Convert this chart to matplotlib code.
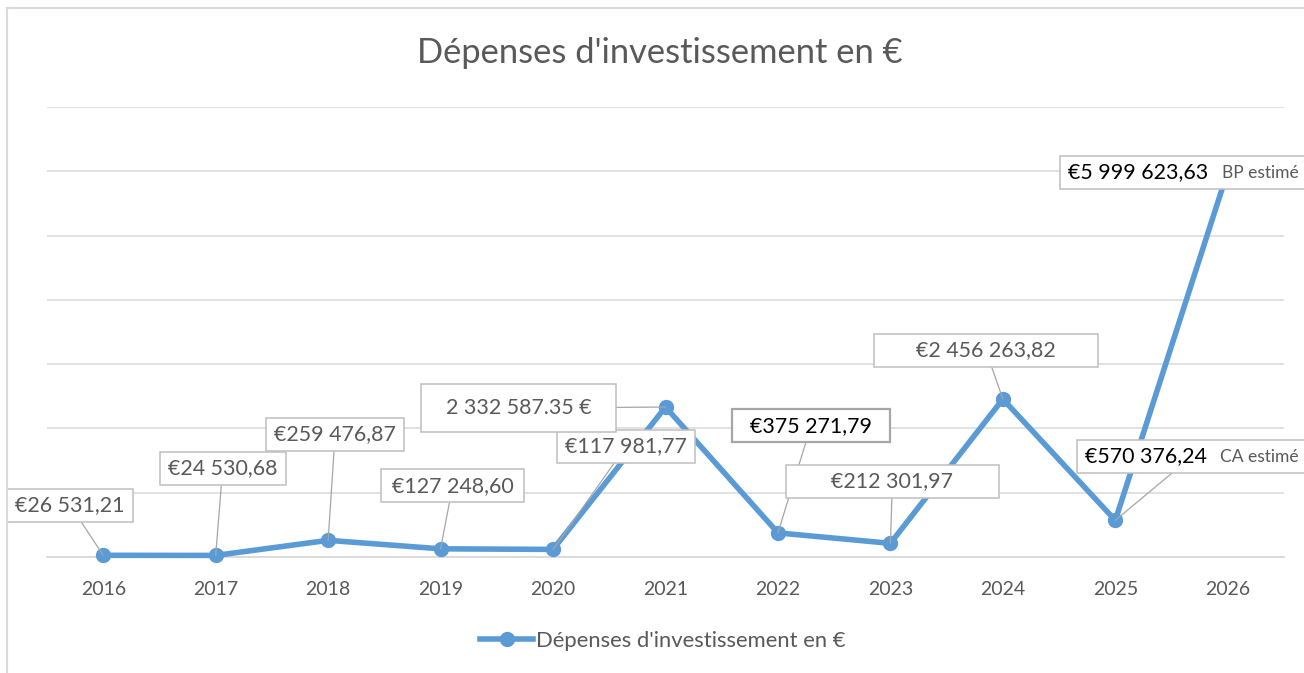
import matplotlib
matplotlib.use('Agg')
import numpy as np
from matplotlib import pyplot as plt
from matplotlib.lines import Line2D
from matplotlib.offsetbox import TextArea, HPacker, DrawingArea, AnnotationBbox

plt.rcParams['font.family'] = ['Lato', 'DejaVu Sans']

# data
years = ['2016', '2017', '2018', '2019', '2020', '2021', '2022', '2023', '2024', '2025', '2026']
depenses = [26531.21, 24530.68, 259476.87, 127248.60, 117981.77, 2332587.35,
            375271.79, 212301.97, 2456263.82, 570376.24, 5999623.63]
value_labels = ['€26 531,21', '€24 530,68', '€259 476,87', '€127 248,60', '€117 981,77',
                '2 332 587.35 €', '€375 271,79', '€212 301,97', '€2 456 263,82',
                '€570 376,24', '€5 999 623,63']
notes = ['', '', '', '', '', '', '', '', '', 'CA estimé', 'BP estimé']
series_name = "Dépenses d'investissement en €"
title = "Dépenses d'investissement en €"

# label layout: offset (px) of box from point, extra side padding (px), alignment
offsets = [(-33, 50), (7, 87), (7, 106), (12, 63), (73, 103), (-147, -1),
           (33, 107), (2, 62), (-17, 49), (-32, 64), (-161.5, -1)]
extra_pad = [2, 2, 2, 4, 2, 18, 12, 39, 36, 2, 2]
extra_h = [0, 0, 0, 0, 0, 35, 0, 0, 0, 0, 0]
left_aligned = [9, 10]
black_text = [6, 9, 10]
dark_frame = [6]

gray = '#595959'
grid_c = '#D9D9D9'
blue = '#5B9BD5'
px = 72 / 100.0

W, H = 1304, 673
fig = plt.figure(figsize=(W / 100, H / 100), dpi=100)
ax = fig.add_axes([47 / W, 1 - 557 / H, (1284 - 47) / W, 450 / H])

x = np.arange(len(years))
line, = ax.plot(x, depenses, color=blue, lw=4, marker='o', ms=10,
                solid_joinstyle='round', zorder=3, clip_on=False)

ax.set_xlim(-0.5, len(years) - 0.5)
ax.set_ylim(0, 7e6)
ax.set_yticks(np.arange(0, 7e6 + 1, 1e6))
ax.set_yticklabels([])
ax.tick_params(axis='y', length=0)
ax.set_xticks(x, years)
ax.tick_params(axis='x', length=0, pad=17, labelsize=14, labelcolor=gray)
ax.grid(axis='y', color=grid_c, lw=1.1)
ax.set_axisbelow(True)
for s in ['top', 'right', 'left']:
    ax.spines[s].set_visible(False)
ax.spines['bottom'].set_color(grid_c)
ax.spines['bottom'].set_linewidth(1.3)

for i, v in enumerate(depenses):
    col = 'black' if i in black_text else gray
    ta = TextArea(value_labels[i], textprops=dict(color=col, size=15.4))
    if notes[i]:
        tn = TextArea(notes[i], textprops=dict(color=gray, size=12.5))
        inner = HPacker(children=[ta, tn], sep=13 * px, align='baseline', pad=0)
    else:
        inner = ta
    sp = extra_pad[i] * px
    sp_l = DrawingArea(sp, extra_h[i] * px)
    sp_r = DrawingArea(sp, extra_h[i] * px)
    box = HPacker(children=[sp_l, inner, sp_r], sep=0, align='center', pad=0)
    if i in dark_frame:
        frame = dict(edgecolor='#A6A6A6', facecolor='white', linewidth=1.6)
    else:
        frame = dict(edgecolor='#BFBFBF', facecolor='white', linewidth=1.1)
    arrow = None if i == len(depenses) - 1 else dict(arrowstyle='-', color='#A6A6A6', lw=0.9,
                                                     shrinkA=0, shrinkB=0)
    ab = AnnotationBbox(box, (i, v), xybox=offsets[i], xycoords='data',
                        boxcoords='offset pixels',
                        box_alignment=(0, 0.5) if i in left_aligned else (0.5, 0.5),
                        pad=0.3, fontsize=15.4, bboxprops=frame, arrowprops=arrow,
                        annotation_clip=False, zorder=5)
    ax.add_artist(ab)

fig.text(660 / W, 1 - 53 / H, title, ha='center', va='center', fontsize=24.8, color=gray)

fig.legend([line], [series_name], loc='center', bbox_to_anchor=(663 / W, 1 - 641 / H),
           frameon=False, fontsize=15.8, handlelength=2.4, handletextpad=0.15, labelcolor=gray)

# chart area border
fig.add_artist(Line2D([7 / W, 7 / W], [0, 1 - 8 / H], transform=fig.transFigure,
                      color=grid_c, lw=1.5))
fig.add_artist(Line2D([7 / W, 1], [1 - 8 / H, 1 - 8 / H], transform=fig.transFigure,
                      color=grid_c, lw=1.5))

fig.savefig('out.png', dpi=100, facecolor='white')
